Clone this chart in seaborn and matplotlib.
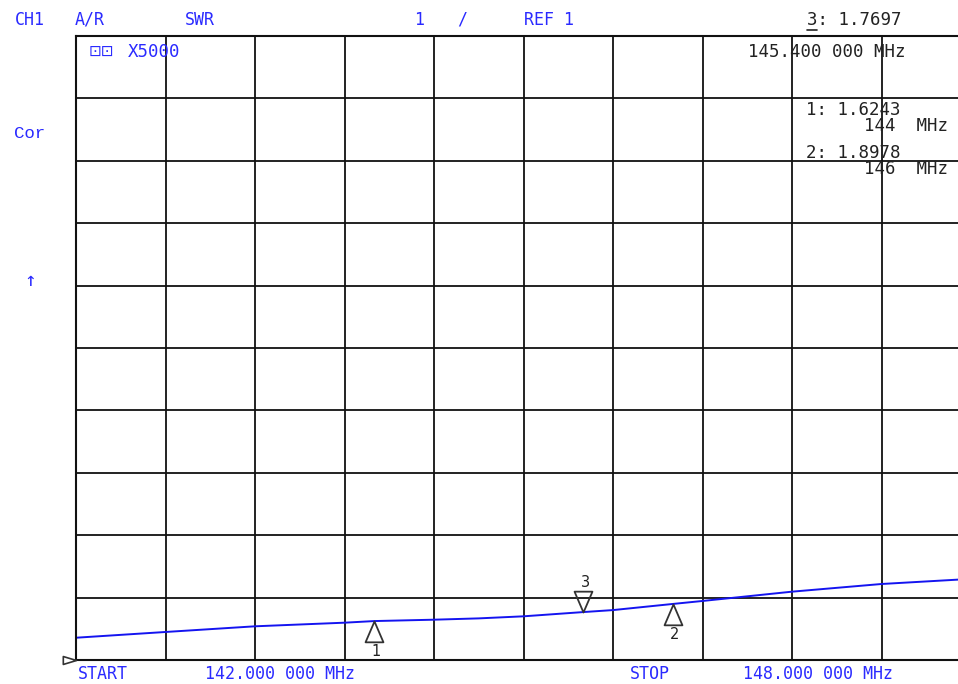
import numpy as np
import matplotlib
matplotlib.use("Agg")
import matplotlib.pyplot as plt
from matplotlib.path import Path
from matplotlib.lines import Line2D
import seaborn as sns
import pandas as pd

freq_mhz = [142.0, 142.6, 143.2, 143.8, 144.0, 144.4, 144.7, 145.0, 145.4,
            145.6, 146.0, 146.2, 146.8, 147.4, 148.0]
swr = [1.357, 1.449, 1.540, 1.598, 1.624, 1.646, 1.667, 1.700, 1.768,
       1.800, 1.898, 1.946, 2.095, 2.218, 2.300]

marker_ids = ["1", "2", "3"]
marker_freq = [144.0, 146.0, 145.4]
marker_swr = [1.6243, 1.8978, 1.7697]
marker_up = [True, True, False]

x_start, x_stop = 142.0, 148.0
ref_value = 1.0
scale_per_div = 1.0
n_div = 10

# ---------------- figure ----------------
W, H = 958, 684
sns.set_theme(style="white")
plt.rcParams["font.family"] = ["DejaVu Sans Mono", "DejaVu Sans"]

fig = plt.figure(figsize=(W / 100, H / 100), dpi=100)
fig.patch.set_facecolor("white")


def fx(px):
    return px / W


def fy(py):
    return 1 - py / H


ax = fig.add_axes([fx(76), fy(660), 895 / W, 624 / H])
ax.set_facecolor("white")

df = pd.DataFrame({"freq": freq_mhz, "swr": swr})
sns.lineplot(data=df, x="freq", y="swr", ax=ax, color="#1414f0", lw=1.4)

ax.set_xlim(x_start, x_stop)
ax.set_ylim(ref_value, ref_value + n_div * scale_per_div)
ax.set_xticks(np.linspace(x_start, x_stop, n_div + 1))
ax.set_yticks(np.linspace(ref_value, ref_value + n_div * scale_per_div, n_div + 1))
ax.grid(True, color="#111111", lw=1.3)
ax.set_axisbelow(True)
ax.tick_params(length=0, labelbottom=False, labelleft=False)
ax.set_xlabel("")
ax.set_ylabel("")
for s in ax.spines.values():
    s.set_color("#111111")
    s.set_linewidth(1.5)

# marker triangles (tip at the data point)
MC = [Path.MOVETO, Path.LINETO, Path.LINETO, Path.CLOSEPOLY]
tri_up = Path([(0, 0), (-0.43, -1), (0.43, -1), (0, 0)], MC)
tri_down = Path([(0, 0), (-0.43, 1), (0.43, 1), (0, 0)], MC)
for mid, f, v, up in zip(marker_ids, marker_freq, marker_swr, marker_up):
    ax.plot([f], [v], marker=tri_up if up else tri_down, ms=30, mfc="none",
            mec="#333333", mew=1.3, ls="none", clip_on=False, zorder=5)
    ax.annotate(mid, (f, v), xytext=(1.5, -22 if up else 21),
                textcoords="offset points", ha="center", va="center",
                fontsize=10.5, color="#222222", family="DejaVu Sans")

# reference position indicator at left edge
tri_right = Path([(0, 0), (-1, -0.3), (-1, 0.3), (0, 0)], MC)
ax.plot([x_start], [ref_value], marker=tri_right, ms=19, mfc="none",
        mec="#333333", mew=1.2, ls="none", clip_on=False, zorder=5)

# ---------------- annotation texts ----------------
BLUE = "#2a2aff"
BLACK = "#222222"


def t(px, py, s, color, size=12, ha="center", **kw):
    return fig.text(fx(px), fy(py), s, color=color, fontsize=size, ha=ha,
                    va="center", **kw)


t(30, 20, "CH1", BLUE)
t(90, 20, "A/R", BLUE)
t(200, 20, "SWR", BLUE)
t(419, 20, "1", BLUE)
t(462, 20, "/", BLUE)
t(549, 20, "REF 1", BLUE)
act = t(854, 20, "3: 1.7697", BLACK, size=12.5)

t(154, 52, "X5000", BLUE, size=12.5)
t(101, 51, "⊡⊡", BLUE, size=11, family=["DejaVu Sans"])
t(827, 52, "145.400 000 MHz", BLACK, size=12.5)

t(853, 110, "1: 1.6243", BLACK, size=12.5)
t(906, 126, "144  MHz", BLACK, size=12.5)
t(853, 153, "2: 1.8978", BLACK, size=12.5)
t(906, 169, "146  MHz", BLACK, size=12.5)

t(30, 133, "Cor", BLUE, size=12.5, family=["Liberation Mono", "DejaVu Sans"])
t(30, 281, "↑", BLUE, size=14)

t(103, 674, "START", BLUE, size=12)
t(280, 674, "142.000 000 MHz", BLUE, size=12)
t(650, 674, "STOP", BLUE, size=12)
t(818, 674, "148.000 000 MHz", BLUE, size=12)

# underline beneath the active marker number
fig.canvas.draw()
bb = act.get_window_extent()
cw = bb.width / len(act.get_text())
fig.add_artist(Line2D([bb.x0 / W, (bb.x0 + cw) / W],
                      [(bb.y0 - 1) / H, (bb.y0 - 1) / H],
                      color=BLACK, lw=1.2))

fig.savefig("out.png", dpi=100, facecolor="white")
